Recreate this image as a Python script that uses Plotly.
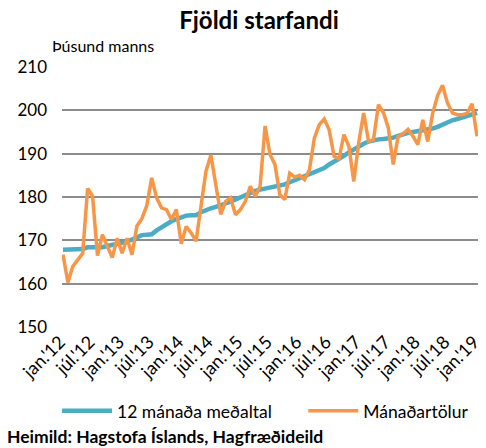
import plotly.graph_objects as go

month_names = ["jan", "feb", "mar", "apr", "maí", "jún", "júl", "ágú", "sep", "okt", "nóv", "des"]
years = ["12", "13", "14", "15", "16", "17", "18", "19"]
categories = [f"{m}.'{y}" for y in years for m in month_names][:85]

tick_labels = ["jan.'12", "júl.'12", "jan.'13", "júl.'13", "jan.'14", "júl.'14", "jan.'15",
               "júl.'15", "jan.'16", "júl.'16", "jan.'17", "júl.'17", "jan.'18", "júl.'18", "jan.'19"]

avg_12m = [167.8, 167.8, 167.9, 168.0, 168.0, 168.4, 168.4, 168.3, 168.4, 168.7, 168.9, 169.1,
           169.4, 169.7, 170.2, 170.6, 171.2, 171.3, 171.4, 172.3, 173.1, 173.8, 174.4, 174.9,
           175.3, 175.7, 175.8, 175.8, 176.5, 177.0, 177.4, 177.7, 178.0, 178.5, 178.9, 179.4,
           180.0, 180.6, 181.0, 181.4, 181.7, 181.9, 182.1, 182.3, 182.6, 182.9, 183.4, 183.9,
           184.3, 184.8, 185.4, 185.9, 186.3, 186.7, 187.5, 188.1, 188.8, 189.5, 190.3, 191.0,
           191.8, 192.3, 192.8, 193.1, 193.3, 193.4, 193.5, 193.7, 194.1, 194.5, 194.8, 195.0,
           195.2, 195.3, 195.5, 195.8, 196.2, 196.7, 197.3, 197.7, 198.0, 198.4, 198.8, 199.1,
           199.4]

monthly = [166.7, 160.3, 164.0, 165.5, 167.0, 182.0, 180.2, 166.5, 171.3, 168.6, 166.0, 170.5,
           167.0, 170.5, 166.7, 173.3, 175.0, 178.0, 184.4, 179.8, 177.5, 177.1, 174.8, 177.1,
           169.2, 173.2, 171.7, 169.8, 178.6, 185.9, 189.7, 182.5, 176.0, 179.0, 179.8, 175.9,
           177.1, 179.0, 182.5, 180.2, 182.5, 196.4, 189.8, 187.5, 180.5, 179.4, 185.5, 184.6,
           185.0, 184.0, 186.3, 193.6, 196.7, 198.0, 195.5, 189.4, 188.8, 194.4, 191.7, 183.6,
           192.5, 199.4, 192.8, 193.2, 201.3, 199.5, 196.0, 187.5, 194.0, 194.6, 195.6, 194.0,
           192.1, 197.8, 192.8, 199.3, 203.4, 205.8, 201.7, 199.4, 199.0, 199.0, 199.3, 201.5,
           194.0]

FONT = "Lato, 'Open Sans', sans-serif"

fig = go.Figure()
fig.add_trace(go.Scatter(x=categories, y=avg_12m, mode="lines", name="12 mánaða meðaltal",
                         line=dict(color="#4BACC6", width=4.5), legend="legend"))
fig.add_trace(go.Scatter(x=categories, y=monthly, mode="lines", name="Mánaðartölur",
                         line=dict(color="#F79646", width=3.5), legend="legend2"))

legend_common = dict(orientation="h", yanchor="middle", y=-0.323, xanchor="left",
                     font=dict(size=17.5, family=FONT), itemwidth=50,
                     bgcolor="rgba(0,0,0,0)", borderwidth=0)

fig.update_layout(
    width=486, height=448,
    margin=dict(l=62, r=8, t=67, b=121),
    paper_bgcolor="white", plot_bgcolor="white",
    font=dict(family=FONT, size=15, color="#000000"),
    title=dict(text="<b>Fjöldi starfandi</b>", x=259 / 486, xref="container", xanchor="center",
               y=1 - 21 / 448, yref="container", yanchor="middle",
               font=dict(size=24, family=FONT, color="#000000")),
    xaxis=dict(type="category", categoryorder="array", categoryarray=categories,
               tickmode="array", tickvals=tick_labels, ticktext=tick_labels,
               tickangle=-45, showgrid=False, zeroline=False, showline=False,
               ticks="", range=[-0.2, 84.2], tickfont=dict(size=18), automargin=False,
               ticklabelshift=-3),
    yaxis=dict(range=[150, 210], tickvals=[150, 160, 170, 180, 190, 200, 210],
               showgrid=True, gridcolor="#8c8c8c", gridwidth=2, zeroline=False,
               showline=False, ticks="", ticklabelstandoff=14, tickfont=dict(size=17),
               automargin=False),
    showlegend=True,
    legend=dict(x=-0.012, **legend_common),
    legend2=dict(x=0.58, **legend_common),
    annotations=[
        dict(text="Þúsund manns", xref="paper", yref="paper", x=-0.029, y=1.081,
             xanchor="left", yanchor="middle", showarrow=False, font=dict(size=16)),
        dict(text="<b>Heimild: Hagstofa Íslands, Hagfræðideild</b>", xref="paper", yref="paper",
             x=-0.137, y=-0.423, xanchor="left", yanchor="middle", showarrow=False,
             font=dict(size=17.5)),
    ],
)

fig.write_html("out.html", config={"displayModeBar": False},
               post_script="document.body.style.margin='0';")
